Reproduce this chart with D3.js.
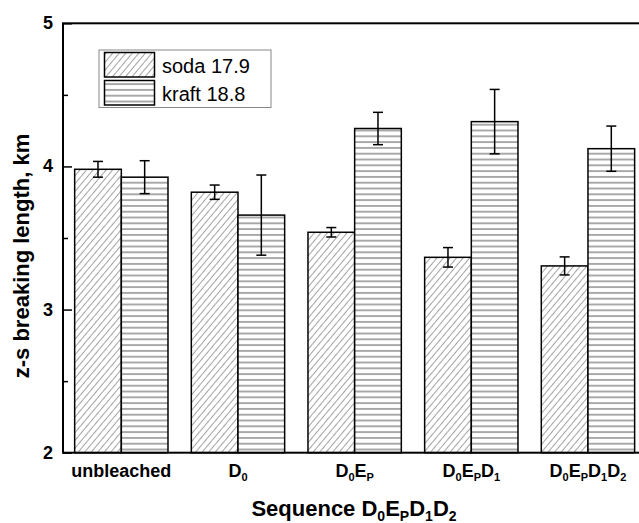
<!DOCTYPE html>
<html>
<head>
<meta charset="utf-8">
<script src="https://cdn.jsdelivr.net/npm/d3@7"></script>
<style>
  body { margin: 0; background: #fff; }
  text { font-family: "Liberation Sans", Arial, sans-serif; }
</style>
</head>
<body>
<div id="chart"></div>
<script>
// data
var categories = ['unbleached', 'D0', 'D0EP', 'D0EPD1', 'D0EPD1D2'];
// each label is a list of [text, isSubscript] pieces
var categoryLabels = [
  [['unbleached', 0]],
  [['D', 0], ['0', 1]],
  [['D', 0], ['0', 1], ['E', 0], ['P', 1]],
  [['D', 0], ['0', 1], ['E', 0], ['P', 1], ['D', 0], ['1', 1]],
  [['D', 0], ['0', 1], ['E', 0], ['P', 1], ['D', 0], ['1', 1], ['D', 0], ['2', 1]]
];
var xTitle = [['Sequence D', 0], ['0', 1], ['E', 0], ['P', 1], ['D', 0], ['1', 1], ['D', 0], ['2', 1]];
var seriesNames = ['soda 17.9', 'kraft 18.8'];
var sodaValues = [3.98, 3.82, 3.54, 3.365, 3.305];
var sodaErrors = [0.055, 0.05, 0.033, 0.068, 0.063];
var kraftValues = [3.925, 3.66, 4.265, 4.313, 4.124];
var kraftErrors = [0.115, 0.28, 0.113, 0.225, 0.158];
var yTicks = [2, 3, 4, 5];
var yMinorTicks = [2.5, 3.5, 4.5];

var width = 639, height = 523;
var margin = {left: 63, top: 23.3, bottom: 452.7, right: 646.3};

var svg = d3.select('#chart').append('svg')
  .attr('width', width)
  .attr('height', height);

var defs = svg.append('defs');

// diagonal hatch for soda
var diag = defs.append('pattern')
  .attr('id', 'hatchDiag')
  .attr('patternUnits', 'userSpaceOnUse')
  .attr('width', 5).attr('height', 5)
  .attr('patternTransform', 'rotate(40)');
diag.append('rect').attr('width', 5).attr('height', 5).attr('fill', '#fff');
diag.append('line')
  .attr('x1', 0).attr('y1', 0).attr('x2', 0).attr('y2', 5)
  .attr('stroke', '#333').attr('stroke-width', 0.9);

// horizontal hatch for kraft
var horiz = defs.append('pattern')
  .attr('id', 'hatchHoriz')
  .attr('patternUnits', 'userSpaceOnUse')
  .attr('width', 10).attr('height', 5.8);
horiz.append('rect').attr('width', 10).attr('height', 5.8).attr('fill', '#fff');
horiz.append('line')
  .attr('x1', 0).attr('y1', 2.9).attr('x2', 10).attr('y2', 2.9)
  .attr('stroke', '#555').attr('stroke-width', 1);

var fills = ['url(#hatchDiag)', 'url(#hatchHoriz)'];

var x = d3.scaleBand()
  .domain(categories)
  .range([margin.left, margin.right])
  .paddingInner(0.2)
  .paddingOuter(0.1);

var xSub = d3.scaleBand()
  .domain([0, 1])
  .range([0, x.bandwidth()]);

var y = d3.scaleLinear()
  .domain([2, 5])
  .range([margin.bottom, margin.top]);

var series = [
  {values: sodaValues, errors: sodaErrors},
  {values: kraftValues, errors: kraftErrors}
];

// bars
series.forEach(function (s, si) {
  var g = svg.append('g');
  g.selectAll('rect')
    .data(categories)
    .enter()
    .append('rect')
    .attr('x', function (d) { return x(d) + xSub(si); })
    .attr('y', function (d, i) { return y(s.values[i]); })
    .attr('width', xSub.bandwidth())
    .attr('height', function (d, i) { return y(2) - y(s.values[i]); })
    .attr('fill', fills[si])
    .attr('stroke', '#000')
    .attr('stroke-width', 1.5);

  // error bars
  var eb = g.selectAll('g.err')
    .data(categories)
    .enter()
    .append('g')
    .attr('class', 'err')
    .attr('stroke', '#000')
    .attr('stroke-width', 1.5);
  var cx = function (d) { return x(d) + xSub(si) + xSub.bandwidth() / 2; };
  eb.append('line')
    .attr('x1', cx).attr('x2', cx)
    .attr('y1', function (d, i) { return y(s.values[i] + s.errors[i]); })
    .attr('y2', function (d, i) { return y(s.values[i] - s.errors[i]); });
  [1, -1].forEach(function (sign) {
    eb.append('line')
      .attr('x1', function (d) { return cx(d) - 5; })
      .attr('x2', function (d) { return cx(d) + 5; })
      .attr('y1', function (d, i) { return y(s.values[i] + sign * s.errors[i]); })
      .attr('y2', function (d, i) { return y(s.values[i] + sign * s.errors[i]); });
  });
});

// frame
svg.append('rect')
  .attr('x', margin.left).attr('y', margin.top)
  .attr('width', margin.right - margin.left)
  .attr('height', margin.bottom - margin.top)
  .attr('fill', 'none')
  .attr('stroke', '#000')
  .attr('stroke-width', 2);

// y axis with inward ticks
svg.append('g')
  .attr('transform', 'translate(' + margin.left + ',0)')
  .call(d3.axisRight(y).tickValues(yTicks).tickSize(9).tickFormat(''))
  .call(function (g) { g.select('.domain').remove(); })
  .selectAll('line').attr('stroke-width', 1.5);
svg.append('g')
  .attr('transform', 'translate(' + margin.left + ',0)')
  .call(d3.axisRight(y).tickValues(yMinorTicks).tickSize(5).tickFormat(''))
  .call(function (g) { g.select('.domain').remove(); })
  .selectAll('line').attr('stroke-width', 1.5);

svg.selectAll('text.ytick')
  .data(yTicks)
  .enter()
  .append('text')
  .attr('class', 'ytick')
  .attr('x', margin.left - 10)
  .attr('y', function (d) { return y(d) + 6; })
  .attr('text-anchor', 'end')
  .attr('font-size', 18)
  .attr('font-weight', 'bold')
  .text(function (d) { return d; });

// text with subscripts: dy shifts down for a subscript and back up after it
function writeParts(sel, parts, size, subSize, subShift) {
  var shifted = 0;
  parts.forEach(function (p) {
    var target = p[1] ? subShift : 0;
    sel.append('tspan')
      .attr('font-size', p[1] ? subSize : size)
      .attr('dy', target - shifted)
      .text(p[0]);
    shifted = target;
  });
}

categories.forEach(function (c, i) {
  var t = svg.append('text')
    .attr('x', x(c) + x.bandwidth() / 2)
    .attr('y', margin.bottom + 24)
    .attr('text-anchor', 'middle')
    .attr('font-size', 18)
    .attr('font-weight', 'bold');
  writeParts(t, categoryLabels[i], 18, 11, 4);
});

// axis titles
svg.append('text')
  .attr('transform', 'translate(29,256) rotate(-90)')
  .attr('text-anchor', 'middle')
  .attr('font-size', 22)
  .attr('font-weight', 'bold')
  .text('z-s breaking length, km');

var xt = svg.append('text')
  .attr('x', 354)
  .attr('y', 516)
  .attr('text-anchor', 'middle')
  .attr('font-size', 22)
  .attr('font-weight', 'bold');
writeParts(xt, xTitle, 22, 14, 5);

// legend
var legend = svg.append('g');
legend.append('rect')
  .attr('x', 99).attr('y', 50)
  .attr('width', 172).attr('height', 57.5)
  .attr('fill', '#fff')
  .attr('stroke', '#888')
  .attr('stroke-width', 1);
seriesNames.forEach(function (name, i) {
  legend.append('rect')
    .attr('x', 104.5).attr('y', 52.5 + i * 28)
    .attr('width', 50).attr('height', 24.5)
    .attr('fill', fills[i])
    .attr('stroke', '#000')
    .attr('stroke-width', 1.5);
  legend.append('text')
    .attr('x', 162).attr('y', 72.5 + i * 28)
    .attr('font-size', 20)
    .text(name);
});
</script>
</body>
</html>
